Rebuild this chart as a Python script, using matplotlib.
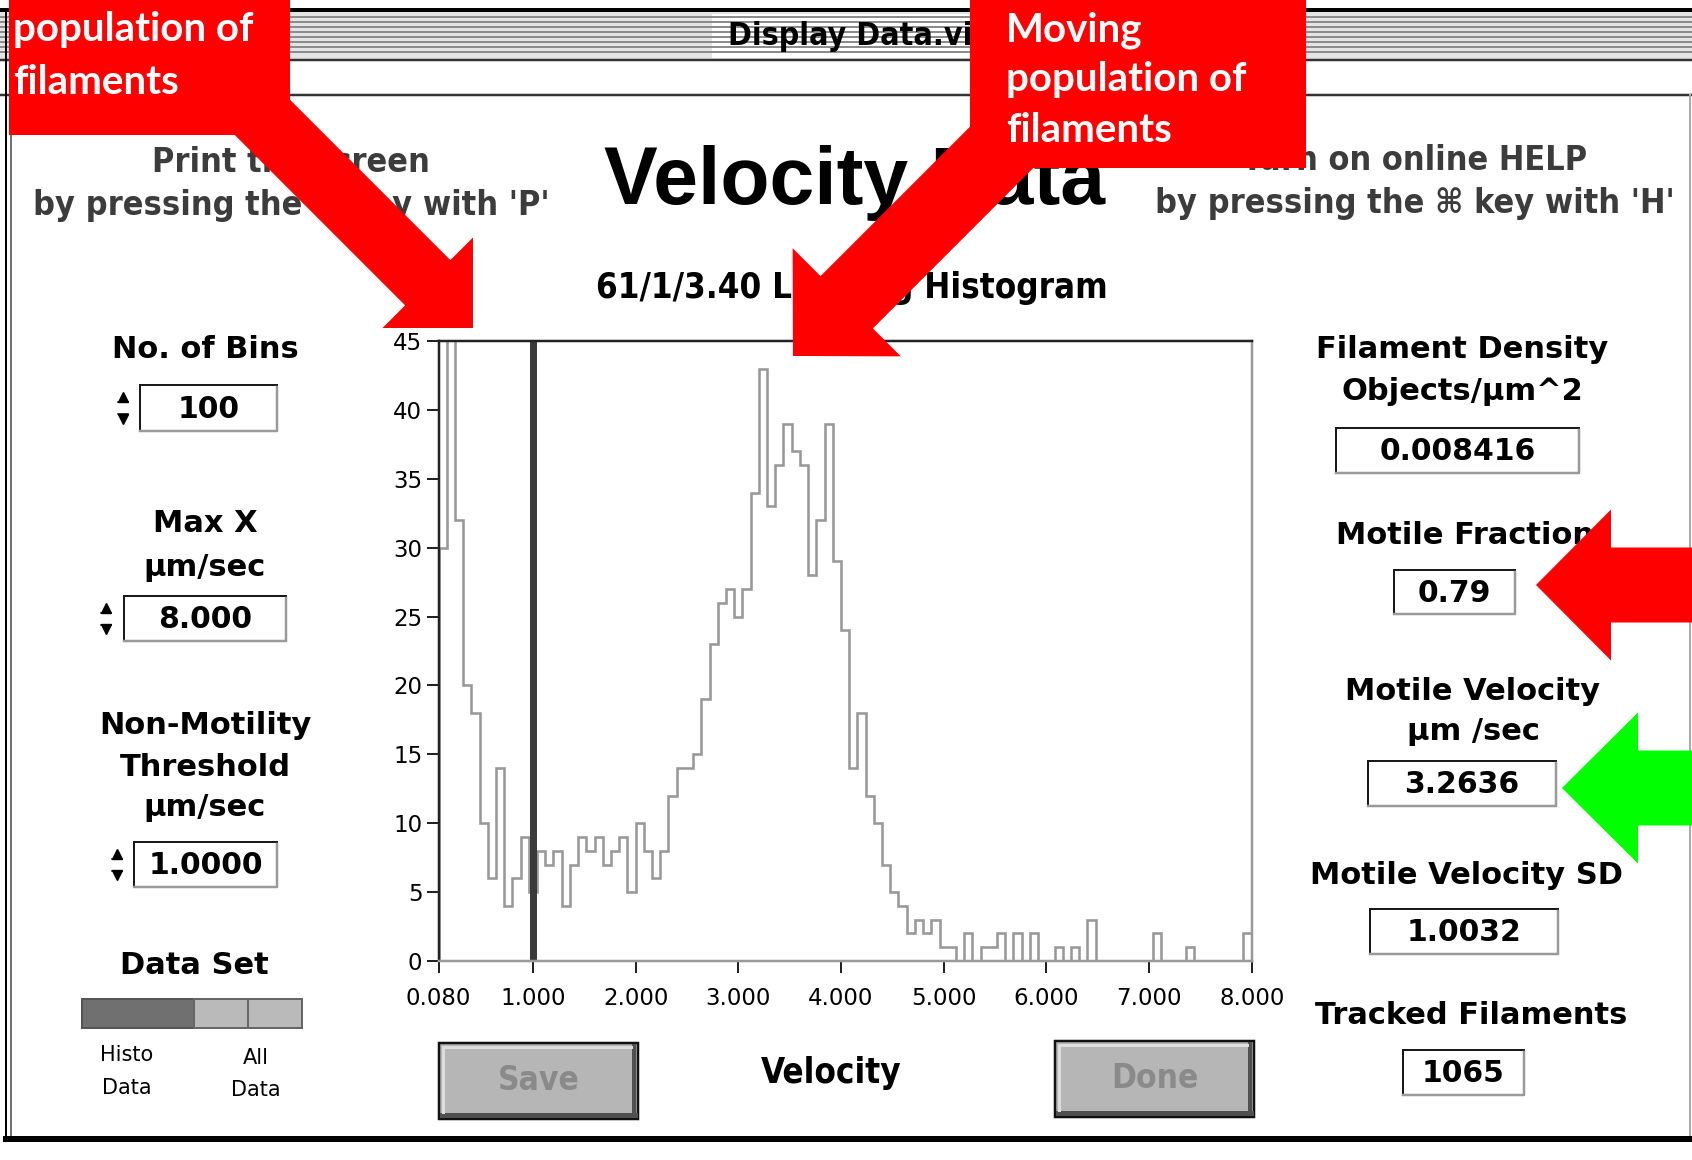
import numpy as np
import matplotlib
matplotlib.use('Agg')
import matplotlib.pyplot as plt
import matplotlib.patches as mpatches

# --- histogram data (counts per bin, 0.08 um/s bins)
bin_start = 0.08
bin_width = 0.08
counts = [30, 47, 32, 20, 18, 10, 6, 14, 4, 6,
          9, 5, 8, 7, 8, 4, 7, 9, 8, 9,
          7, 8, 9, 5, 10, 8, 6, 8, 12, 14,
          14, 15, 19, 23, 26, 27, 25, 27, 34, 43,
          33, 36, 39, 37, 36, 28, 32, 39, 29, 24,
          14, 18, 12, 10, 7, 5, 4, 2, 3, 2,
          3, 1, 1, 0, 2, 0, 1, 1, 2, 0,
          2, 0, 2, 0, 0, 1, 0, 1, 0, 3,
          0, 0, 0, 0, 0, 0, 0, 2, 0, 0,
          0, 1, 0, 0, 0, 0, 0, 0, 2]
threshold = 1.0
x_ticks = [0.08, 1, 2, 3, 4, 5, 6, 7, 8]
x_ticklabels = ['0.080', '1.000', '2.000', '3.000', '4.000',
                '5.000', '6.000', '7.000', '8.000']
y_ticks = [0, 5, 10, 15, 20, 25, 30, 35, 40, 45]

# --- panel texts
window_title = 'Display Data.vi'
main_title = 'Velocity Data'
sub_title = '61/1/3.40 Landing Histogram'
x_label = 'Velocity'
help_left = ['Print the screen', "by pressing the \u2318 key with 'P'"]
help_right = ['Turn on online HELP', "by pressing the \u2318 key with 'H'"]
left_labels = [['No. of Bins'], ['Max X', '\u00b5m/sec'],
               ['Non-Motility', 'Threshold', '\u00b5m/sec']]
left_values = ['100', '8.000', '1.0000']
right_labels = [['Filament Density', 'Objects/\u00b5m^2'], ['Motile Fraction'],
                ['Motile Velocity', '\u00b5m /sec'], ['Motile Velocity SD'],
                ['Tracked Filaments']]
right_values = ['0.008416', '0.79', '3.2636', '1.0032', '1065']
callout_left = ['Non-moving', 'population of', 'filaments']
callout_right = ['Moving', 'population of', 'filaments']

W, H = 1692, 1160
PX = 72 / 100.0  # points per pixel at dpi 100

fig = plt.figure(figsize=(W / 100, H / 100), dpi=100)
fig.patch.set_facecolor('white')

bg = fig.add_axes([0, 0, 1, 1], zorder=0)
bg.set_xlim(0, W)
bg.set_ylim(H, 0)
bg.axis('off')

top = fig.add_axes([0, 0, 1, 1], zorder=5)
top.set_xlim(0, W)
top.set_ylim(H, 0)
top.axis('off')
top.patch.set_alpha(0)

lab = dict(family='DejaVu Sans', weight='bold', color='black')
cond = dict(family='DejaVu Sans', weight='bold', stretch='condensed')

# --- window chrome
bg.add_patch(mpatches.Rectangle((0, 11), W, 49, facecolor='#e4e4e4', edgecolor='none'))
for yy in range(17, 57, 5):
    bg.plot([0, W], [yy, yy], color='#8c8c8c', lw=2 * PX)
bg.plot([0, W], [10, 10], color='black', lw=4 * PX)
bg.plot([0, W], [60, 60], color='#333333', lw=2.5 * PX)
bg.add_patch(mpatches.Rectangle((712, 14), 290, 44, facecolor='white', edgecolor='none'))
bg.text(728, 37, window_title, ha='left', va='center', fontsize=23, **cond)
bg.plot([0, W], [95, 95], color='#333333', lw=2.5 * PX)
bg.plot([6, 6], [10, 1140], color='black', lw=2 * PX)
bg.plot([11, 11], [95, 1140], color='#444444', lw=1.5 * PX)
bg.plot([1690, 1690], [95, 1140], color='#aaaaaa', lw=2 * PX)
bg.plot([6, W], [1139, 1139], color='black', lw=6 * PX)

# --- header texts
for i, s in enumerate(help_left):
    bg.text(291, 163 + 43 * i, s, ha='center', va='center', fontsize=24.5, color='#3c3c3c', **cond)
for i, s in enumerate(help_right):
    bg.text(1415, 161 + 43 * i, s, ha='center', va='center', fontsize=24.5, color='#3c3c3c', **cond)
bg.text(855, 183, main_title, ha='center', va='center', fontsize=58,
        family='Liberation Sans', weight='bold')
bg.text(852, 288, sub_title, ha='center', va='center', fontsize=25, **cond)
bg.text(831, 1073, x_label, ha='center', va='center', fontsize=25, **cond)


def field(x0, y0, x1, y1, value, size=21.5):
    bg.add_patch(mpatches.Rectangle((x0, y0), x1 - x0, y1 - y0, facecolor='white',
                                    edgecolor='#1a1a1a', lw=2 * PX))
    bg.plot([x1, x1, x0], [y0 + 2, y1, y1], color='#9a9a9a', lw=2.5 * PX)
    bg.text((x0 + x1) / 2, (y0 + y1) / 2 + 1, value, ha='center', va='center',
            fontsize=size, **lab)


def spinner(x, y0, y1):
    bg.plot([x], [y0 + 12], marker='^', ms=7, color='black')
    bg.plot([x], [y1 - 12], marker='v', ms=7, color='black')
    bg.plot([x - 5, x + 5], [(y0 + y1) / 2 - 6, (y0 + y1) / 2 - 6], color='black', lw=1.5 * PX)
    bg.plot([x - 5, x + 5], [(y0 + y1) / 2 + 6, (y0 + y1) / 2 + 6], color='black', lw=1.5 * PX)


# --- left controls
left_label_y = [[350], [523, 568], [726, 768, 808]]
left_boxes = [(140, 385, 277, 431), (124, 596, 286, 641), (134, 842, 277, 887)]
left_spin_x = [123, 106, 117]
for lines, ys, box, val, sx in zip(left_labels, left_label_y, left_boxes, left_values, left_spin_x):
    for s, yy in zip(lines, ys):
        bg.text(205, yy, s, ha='center', va='center', fontsize=22, **lab)
    field(*box, val)
    spinner(sx, box[1], box[3])

bg.text(194, 965, 'Data Set', ha='center', va='center', fontsize=22, **lab)
bg.add_patch(mpatches.Rectangle((82, 999), 112, 29, facecolor='#707070', edgecolor='#555555', lw=2 * PX))
bg.add_patch(mpatches.Rectangle((194, 999), 54, 29, facecolor='#bababa', edgecolor='#666666', lw=2 * PX))
bg.add_patch(mpatches.Rectangle((248, 999), 54, 29, facecolor='#bababa', edgecolor='#666666', lw=2 * PX))
for s, yy in zip(['Histo', 'Data'], [1055, 1088]):
    bg.text(127, yy, s, ha='center', va='center', fontsize=15, family='DejaVu Sans')
for s, yy in zip(['All', 'Data'], [1058, 1090]):
    bg.text(256, yy, s, ha='center', va='center', fontsize=15, family='DejaVu Sans')

# --- right indicators
right_label_y = [[350, 392], [536], [692, 732], [875], [1016]]
right_label_x = [1462, 1465, 1473, 1466, 1471]
right_boxes = [(1336, 428, 1579, 473), (1394, 570, 1515, 614), (1368, 761, 1556, 806),
               (1370, 909, 1558, 954), (1403, 1050, 1524, 1095)]
for lines, ys, cx, box, val in zip(right_labels, right_label_y, right_label_x, right_boxes, right_values):
    for s, yy in zip(lines, ys):
        bg.text(cx, yy, s, ha='center', va='center', fontsize=22, **lab)
    field(*box, val)


# --- buttons
def button(x0, y0, x1, y1, label):
    bg.add_patch(mpatches.Rectangle((x0, y0), x1 - x0, y1 - y0, facecolor='#b6b6b6',
                                    edgecolor='#111111', lw=2.5 * PX))
    bg.plot([x0 + 3, x1 - 3], [y1 - 4, y1 - 4], color='#505050', lw=5 * PX)
    bg.plot([x1 - 4, x1 - 4], [y0 + 3, y1 - 3], color='#505050', lw=4 * PX)
    bg.plot([x0 + 4, x0 + 4, x1 - 7], [y1 - 7, y0 + 4, y0 + 4], color='#dddddd', lw=3 * PX)
    bg.text((x0 + x1) / 2, (y0 + y1) / 2, label, ha='center', va='center',
            fontsize=24, color='#8a8a8a', **cond)


button(439, 1043, 638, 1119, 'Save')
button(1055, 1041, 1254, 1117, 'Done')

# --- histogram
ax = fig.add_axes([438.5 / W, 1 - 961 / H, (1251.7 - 438.5) / W, (961 - 341) / H], zorder=2)
edges = bin_start + bin_width * np.arange(len(counts) + 1)
ax.stairs(counts, edges, color='#999999', lw=2.6 * PX, baseline=0)
ax.axvline(threshold, color='#3a3a3a', lw=7 * PX)
ax.set_xlim(0.08, 8.0)
ax.set_ylim(0, 45)
ax.set_xticks(x_ticks)
ax.set_xticklabels(x_ticklabels)
ax.set_yticks(y_ticks)
ax.tick_params(axis='both', direction='out', length=12 * PX, width=2 * PX,
               labelsize=16.5, color='#222222', pad=3)
ax.tick_params(axis='x', pad=10)
for sp in ['left', 'top']:
    ax.spines[sp].set_color('#222222')
    ax.spines[sp].set_linewidth(2.5 * PX)
for sp in ['right', 'bottom']:
    ax.spines[sp].set_color('#9a9a9a')
    ax.spines[sp].set_linewidth(2.5 * PX)


# --- callouts and arrows drawn over the screenshot
def block_arrow(tail, tip, shaft_w, head_w, head_len, color):
    tail = np.array(tail, float)
    tip = np.array(tip, float)
    d = (tip - tail) / np.linalg.norm(tip - tail)
    n = np.array([-d[1], d[0]])
    base = tip - d * head_len
    pts = [tail + n * shaft_w / 2, base + n * shaft_w / 2, base + n * head_w / 2, tip,
           base - n * head_w / 2, base - n * shaft_w / 2, tail - n * shaft_w / 2]
    top.add_patch(mpatches.Polygon(pts, closed=True, facecolor=color, edgecolor='none'))


red = '#ff0000'
green = '#00ff00'
top.add_patch(mpatches.Rectangle((9, -5), 281, 140, facecolor=red, edgecolor='none'))
top.add_patch(mpatches.Rectangle((970, -5), 336, 173, facecolor=red, edgecolor='none'))
block_arrow((230, 85), (473, 328), 64, 128, 64, red)
block_arrow((1030, 119), (793, 356), 74, 153, 76, red)
block_arrow((1720, 585), (1536, 585), 75, 151, 75, red)
block_arrow((1720, 788), (1562, 788), 75, 151, 76, green)

call = dict(ha='left', va='center', fontsize=29, color='white', family='Lato', weight='bold')
for s, yy in zip(callout_left, [-23, 30, 83]):
    top.text(13, yy, s, **call)
for s, yy in zip(callout_right, [30, 79, 130]):
    top.text(1006, yy, s, **call)

fig.savefig('out.png', dpi=100)
